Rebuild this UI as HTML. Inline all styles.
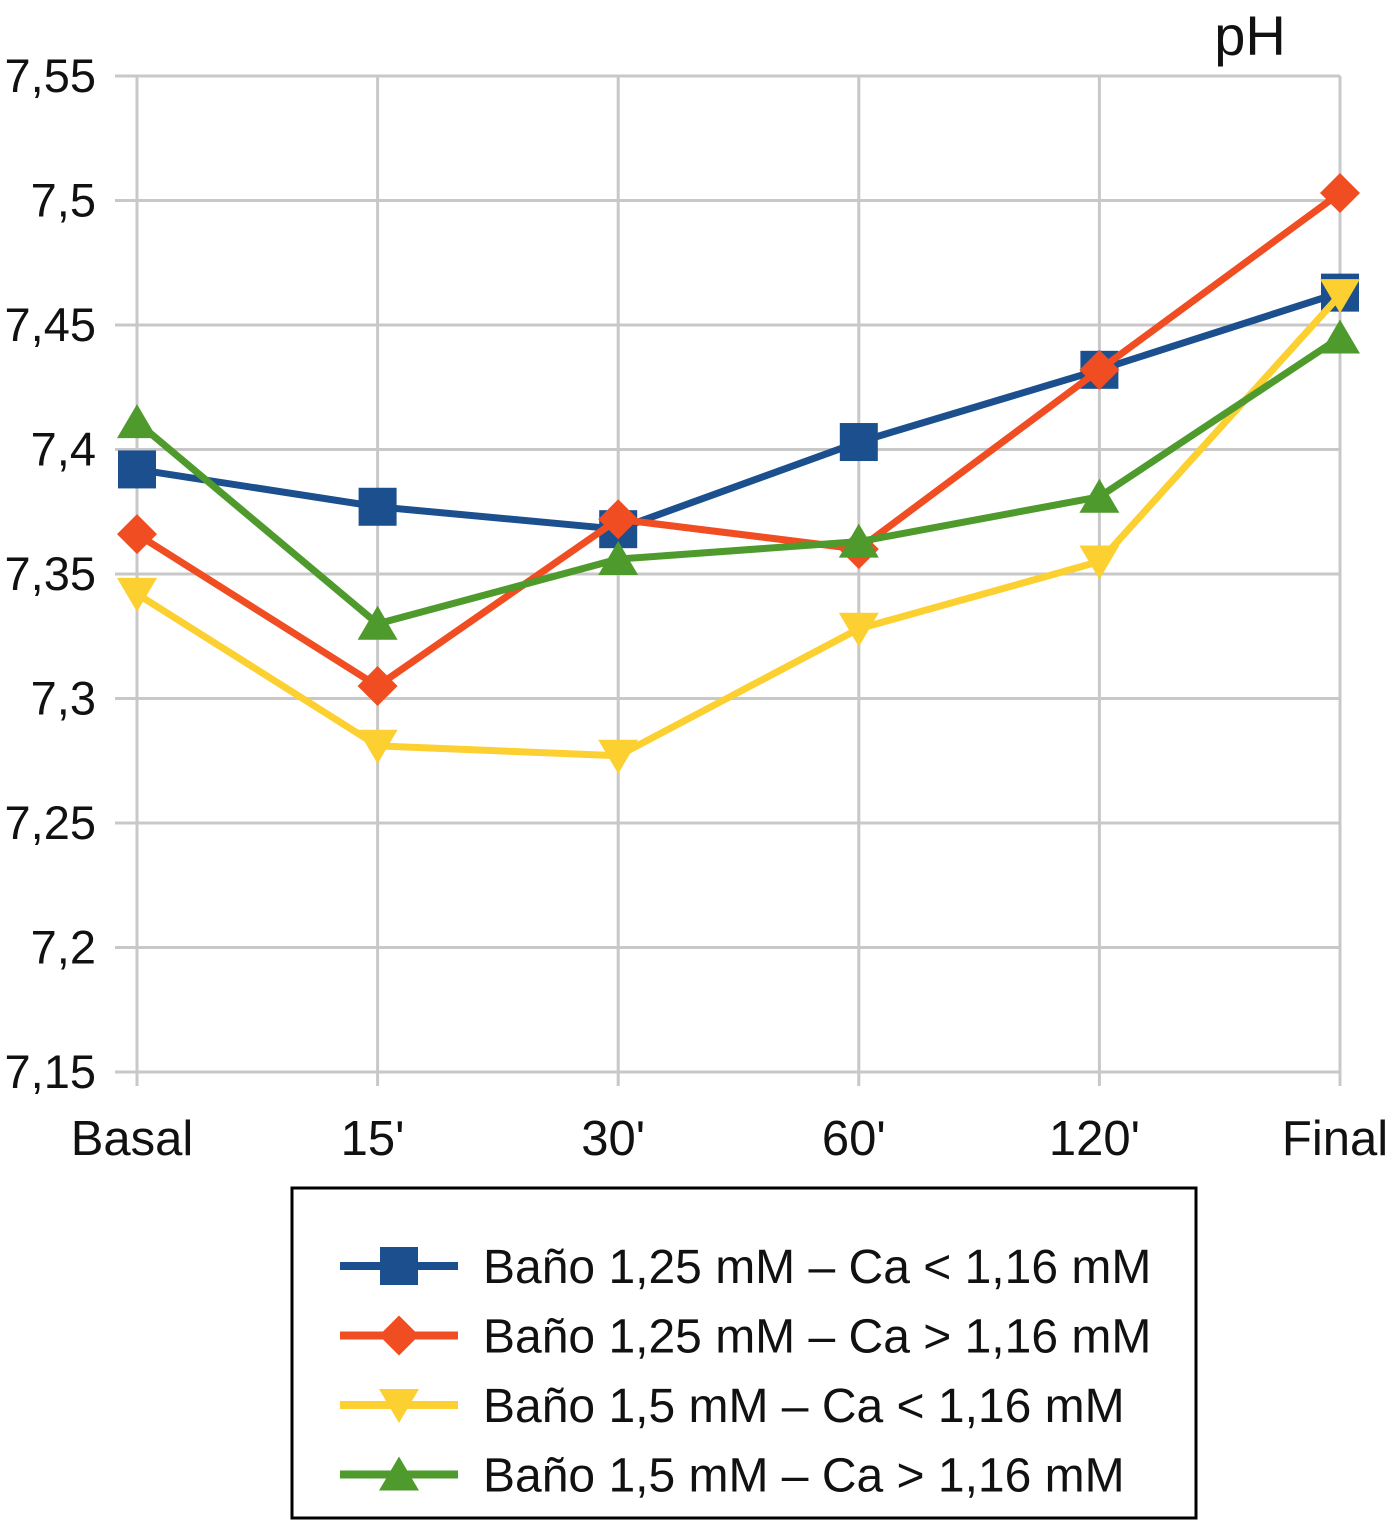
<!DOCTYPE html>
<html><head><meta charset="utf-8"><style>
body{margin:0;background:#fff;}
svg{display:block;font-family:"Liberation Sans",sans-serif;}
</style></head><body>
<svg id="chart" width="1396" height="1521" viewBox="0 0 1396 1521">
<g id="grid"></g><g id="axes"></g><g id="series"></g><g id="legend"></g>
</svg>
<script>
const categories = ["Basal","15'","30'","60'","120'","Final"];
const yTicks = [7.15,7.2,7.25,7.3,7.35,7.4,7.45,7.5,7.55];
const yTickLabels = ["7,15","7,2","7,25","7,3","7,35","7,4","7,45","7,5","7,55"];
const seriesNames = ["Baño 1,25 mM – Ca < 1,16 mM","Baño 1,25 mM – Ca > 1,16 mM","Baño 1,5 mM – Ca < 1,16 mM","Baño 1,5 mM – Ca > 1,16 mM"];
const blueVals = [7.392,7.377,7.368,7.403,7.432,7.463];
const redVals = [7.366,7.305,7.372,7.360,7.432,7.503];
const yellowVals = [7.342,7.281,7.277,7.328,7.355,7.462];
const greenVals = [7.411,7.330,7.356,7.363,7.381,7.445];

const NS="http://www.w3.org/2000/svg";
const svg=document.getElementById('chart');
const x0=137,x1=1340,yb=1072,yt=76,ymin=7.15,ymax=7.55;
const xs=i=>x0+i*(x1-x0)/(categories.length-1);
const ys=v=>yb-(v-ymin)/(ymax-ymin)*(yb-yt);
function mk(tag,attrs,parent){const e=document.createElementNS(NS,tag);for(const k in attrs)e.setAttribute(k,attrs[k]);parent.appendChild(e);return e;}
const grid=document.getElementById('grid'),axes=document.getElementById('axes'),ser=document.getElementById('series'),leg=document.getElementById('legend');
yTicks.forEach((v,i)=>{
  const l=mk('line',{x1:115,x2:x1,y1:ys(v),y2:ys(v),stroke:'#c8c8c8','stroke-width':3},grid);
  
  
  const t=mk('text',{x:96,y:ys(v)+16,'font-size':47,'text-anchor':'end',fill:'#111'},axes);
  t.textContent=yTickLabels[i];
  
  
});
categories.forEach((c,i)=>{
  const l=mk('line',{x1:xs(i),x2:xs(i),y1:yt,y2:yb+14,stroke:'#c8c8c8','stroke-width':3},grid);
  
  
  const t=mk('text',{x:xs(i)-5,y:1155,'font-size':49,'text-anchor':'middle',fill:'#111'},axes);
  t.textContent=c;
  
  
});
const ph=mk('text',{x:1250,y:55,'font-size':56,'text-anchor':'middle',fill:'#111'},axes);
ph.textContent='pH';



function marker(type,cx,cy,color,parent){
  let e;
  if(type==='square')e=mk('rect',{x:cx-19,y:cy-19,width:38,height:38,fill:color},parent);
  else if(type==='diamond')e=mk('polygon',{points:`${cx},${cy-20} ${cx+20},${cy} ${cx},${cy+20} ${cx-20},${cy}`,fill:color},parent);
  else if(type==='down')e=mk('polygon',{points:`${cx-20},${cy-16} ${cx+20},${cy-16} ${cx},${cy+18}`,fill:color},parent);
  else e=mk('polygon',{points:`${cx-20},${cy+16} ${cx+20},${cy+16} ${cx},${cy-18}`,fill:color},parent);
  return e;
}
const allVals=[blueVals,redVals,yellowVals,greenVals];
const colors=['#1b4f8e','#f04d22','#fcd030','#4e9a2c'];
const markers=['square','diamond','down','up'];
const names=['blue','red','yellow','green'];
[0,1,2,3].forEach(s=>{
  const g=mk('g',{},ser);
  
  
  const pl=mk('polyline',{points:allVals[s].map((v,i)=>xs(i)+','+ys(v)).join(' '),fill:'none',stroke:colors[s],'stroke-width':7,'stroke-linejoin':'round'},g);
  
  
  allVals[s].forEach((v,i)=>{
    const m=marker(markers[s],xs(i),ys(v),colors[s],g);
    
    
  });
});
const box=mk('rect',{x:292,y:1188,width:904,height:330,fill:'#fff',stroke:'#000','stroke-width':3},leg);


seriesNames.forEach((n,s)=>{
  const y=1266+s*69.5;
  const g=mk('g',{},leg);
  
  
  mk('line',{x1:340,x2:458,y1:y,y2:y,stroke:colors[s],'stroke-width':8},g);
  marker(markers[s],399,y,colors[s],g);
  const t=mk('text',{x:483,y:y+17,'font-size':48,fill:'#111'},g);
  t.textContent=n;
});
</script>
</body></html>
